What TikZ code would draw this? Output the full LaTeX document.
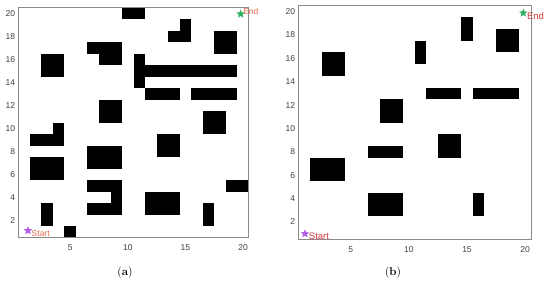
\documentclass[tikz,border=0pt]{standalone}
\usepackage{fontspec}
\setmainfont{Liberation Sans}
\newfontfamily\capfont{Latin Modern Roman}
\usetikzlibrary{shapes.geometric}
\definecolor{framegray}{HTML}{8A8A8A}
\definecolor{ticktext}{HTML}{404040}
\definecolor{startA}{HTML}{E8684A}
\definecolor{startB}{HTML}{D63A3A}
\definecolor{starpurple}{HTML}{B45EE6}
\definecolor{stargreen}{HTML}{2EB062}
\tikzset{
  obst/.style={fill=black},
  frame/.style={draw=framegray,line width=0.9pt},
  ytick/.style={anchor=east,inner sep=0pt,text=ticktext,font=\fontsize{8.5}{9}\selectfont},
  xtick/.style={anchor=center,inner sep=0pt,text=ticktext,font=\fontsize{8.5}{9}\selectfont},
  startstar/.style={star,star points=5,star point ratio=2.3,fill=starpurple,inner sep=0pt,minimum size=9pt},
  endstar/.style={star,star points=5,star point ratio=2.3,fill=stargreen,inner sep=0pt,minimum size=9pt},
  caption/.style={anchor=center,font=\capfont\fontsize{11.5}{13}\selectfont}
}
\begin{document}
\begin{tikzpicture}[x=1pt,y=1pt]
\useasboundingbox (0,0) rectangle (550,283);
\fill[white] (0,0) rectangle (550,283);
% ---------- panel (a) ----------
\begin{scope}[shift={(12.5,39.3)},x=11.53pt,y=11.52pt]
  \fill[obst] (9.5,19.5) rectangle (11.5,20.5);
  \fill[obst] (14.5,18.5) rectangle (15.5,19.5);
  \fill[obst] (13.5,17.5) rectangle (15.5,18.5);
  \fill[obst] (17.5,16.5) rectangle (19.5,18.5);
  \fill[obst] (6.5,16.5) rectangle (9.5,17.5);
  \fill[obst] (7.5,15.5) rectangle (9.5,16.5);
  \fill[obst] (2.5,14.5) rectangle (4.5,16.5);
  \fill[obst] (10.5,13.5) rectangle (11.5,16.5);
  \fill[obst] (11.5,14.5) rectangle (19.5,15.5);
  \fill[obst] (11.5,12.5) rectangle (14.5,13.5);
  \fill[obst] (15.5,12.5) rectangle (19.5,13.5);
  \fill[obst] (7.5,10.5) rectangle (9.5,12.5);
  \fill[obst] (16.5,9.5) rectangle (18.5,11.5);
  \fill[obst] (3.5,9.5) rectangle (4.5,10.5);
  \fill[obst] (1.5,8.5) rectangle (4.5,9.5);
  \fill[obst] (12.5,7.5) rectangle (14.5,9.5);
  \fill[obst] (6.5,6.5) rectangle (9.5,8.5);
  \fill[obst] (1.5,5.5) rectangle (4.5,7.5);
  \fill[obst] (6.5,4.5) rectangle (9.5,5.5);
  \fill[obst] (8.5,3.5) rectangle (9.5,4.5);
  \fill[obst] (6.5,2.5) rectangle (9.5,3.5);
  \fill[obst] (18.5,4.5) rectangle (20.5,5.5);
  \fill[obst] (11.5,2.5) rectangle (14.5,4.5);
  \fill[obst] (2.5,1.5) rectangle (3.5,3.5);
  \fill[obst] (16.5,1.5) rectangle (17.5,3.5);
  \fill[obst] (4.5,0.5) rectangle (5.5,1.5);
  \draw[frame] (0.5,0.5) rectangle (20.5,20.5);
  \foreach \v in {2,4,...,20} \node[ytick] (ay\v) at (0.24,\v) {\v};
  \foreach \u in {5,10,15,20} \node[xtick] (ax\u) at (\u,-0.38) {\u};
  \node[startstar] (as) at (1.34,1.13) {};
  \node[anchor=west,inner sep=0pt,text=startA,font=\fontsize{8.5}{9}\selectfont] (asl) at (1.65,0.85) {Start};
  \node[endstar] (ae) at (19.79,19.94) {};
  \node[anchor=west,inner sep=0pt,text=startA,font=\fontsize{8.5}{9}\selectfont] (ael) at (20.0,20.15) {End};
\end{scope}
% ---------- panel (b) ----------
\begin{scope}[shift={(292.5,37.8)},x=11.633pt,y=11.68pt]
  \fill[obst] (14.5,17.5) rectangle (15.5,19.5);
  \fill[obst] (17.5,16.5) rectangle (19.5,18.5);
  \fill[obst] (10.5,15.5) rectangle (11.5,17.5);
  \fill[obst] (2.5,14.5) rectangle (4.5,16.5);
  \fill[obst] (11.5,12.5) rectangle (14.5,13.5);
  \fill[obst] (15.5,12.5) rectangle (19.5,13.5);
  \fill[obst] (7.5,10.5) rectangle (9.5,12.5);
  \fill[obst] (12.5,7.5) rectangle (14.5,9.5);
  \fill[obst] (6.5,7.5) rectangle (9.5,8.5);
  \fill[obst] (1.5,5.5) rectangle (4.5,7.5);
  \fill[obst] (6.5,2.5) rectangle (9.5,4.5);
  \fill[obst] (15.5,2.5) rectangle (16.5,4.5);
  \draw[frame] (0.5,0.5) rectangle (20.5,20.5);
  \foreach \v in {2,4,...,20} \node[ytick] (by\v) at (0.24,\v) {\v};
  \foreach \u in {5,10,15,20} \node[xtick] (bx\u) at (\u,-0.38) {\u};
  \node[startstar] (bs) at (1.07,0.98) {};
  \node[anchor=west,inner sep=0pt,text=startB,font=\fontsize{9.5}{10}\selectfont] (bsl) at (1.4,0.8) {Start};
  \node[endstar] (be) at (19.84,19.88) {};
  \node[anchor=west,inner sep=0pt,text=startB,font=\fontsize{9.5}{10}\selectfont] (bel) at (20.15,19.6) {End};
\end{scope}
% ---------- captions ----------
\node[caption] (capa) at (125,10) {(\textbf{a})};
\node[caption] (capb) at (393,10) {(\textbf{b})};
\end{tikzpicture}
\end{document}
